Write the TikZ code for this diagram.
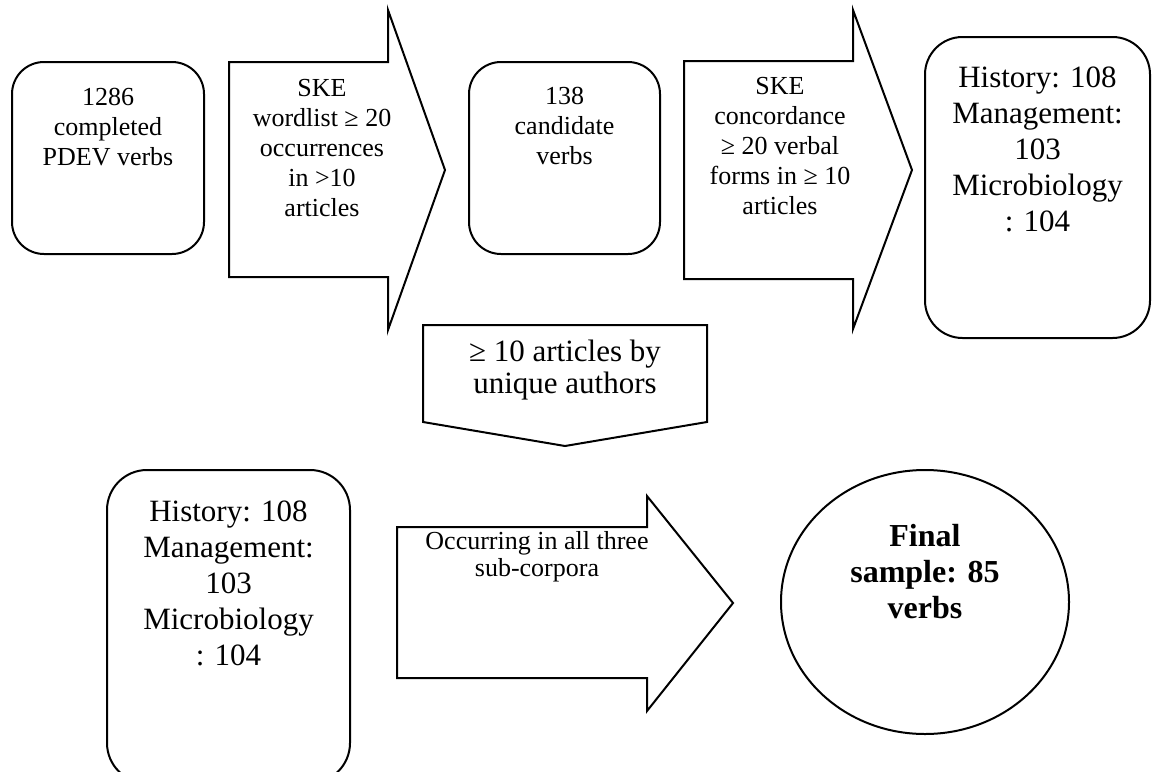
\documentclass[tikz,border=0pt]{standalone}
\usepackage{fontspec}
\setmainfont{Liberation Serif}
\usetikzlibrary{positioning,shapes.geometric}

\begin{document}
\begin{tikzpicture}[x=0.5pt, y=-0.5pt, line width=1pt,
    box/.style={draw, rounded corners=16pt, inner sep=0pt},
    txt/.style={align=center, anchor=north, inner sep=0pt, font=\fontsize{13}{15}\selectfont},
    bigtxt/.style={align=center, anchor=north, inner sep=0pt, font=\fontsize{15.5}{18}\selectfont},
    blockarrow/.style={draw, line join=miter}]
    \clip (0,0) rectangle (1156,771);
    % top row
    \node[box, minimum width=96pt, minimum height=96pt] (b1) at (108,158) {};
    \node[txt, below=13pt of b1.north] (t1) {1286\\completed\\PDEV verbs};
    \draw[blockarrow] (229,62) -- (388,62) -- (388,10) -- (445,170) -- (388,330) -- (388,277) -- (229,277) -- cycle;
    \node[txt] (a1) at (322,78) {SKE\\wordlist ≥ 20\\occurrences\\in >10\\articles};
    \node[box, minimum width=95.5pt, minimum height=96pt] (b2) at (564.5,158) {};
    \node[txt, below=12.5pt of b2.north] (t2) {138\\candidate\\verbs};
    \draw[blockarrow] (684,61) -- (853,61) -- (853,10) -- (912,170) -- (853,329) -- (853,279) -- (684,279) -- cycle;
    \node[txt] (a2) at (780,76) {SKE\\concordance\\≥ 20 verbal\\forms in ≥ 10\\articles};
    \node[box, rounded corners=18.75pt, minimum width=112.5pt, minimum height=150.5pt] (b3) at (1037.5,187.5) {};
    \node[bigtxt, below=15pt of b3.north] (t3) {History: 108\\Management:\\103\\Microbiology\\: 104};
    % down arrow
    \draw[blockarrow] (423,325) -- (707,325) -- (707,422) -- (565,446) -- (423,422) -- cycle;
    \node[bigtxt, font=\fontsize{15.5}{16}\selectfont] (a3) at (565,339) {≥ 10 articles by\\unique authors};
    % bottom row
    \node[box, rounded corners=20pt, minimum width=121.5pt, minimum height=156.5pt] (b4) at (228.5,626.5) {};
    \node[bigtxt, below=15.5pt of b4.north] (t4) {History: 108\\Management:\\103\\Microbiology\\: 104};
    \draw[blockarrow] (397,527) -- (647,527) -- (647,496) -- (733,603) -- (647,711) -- (647,678) -- (397,678) -- cycle;
    \node[txt, font=\fontsize{13}{13.5}\selectfont] (a4) at (537,530) {Occurring in all three\\sub-corpora};
    \node[draw, ellipse, inner sep=0pt, minimum width=144pt, minimum height=132pt] (e1) at (925,602) {};
    \node[txt, font=\bfseries\fontsize{16}{18}\selectfont, below=27pt of e1.north] (t5) {Final\\sample: 85\\verbs};
\end{tikzpicture}
\end{document}
